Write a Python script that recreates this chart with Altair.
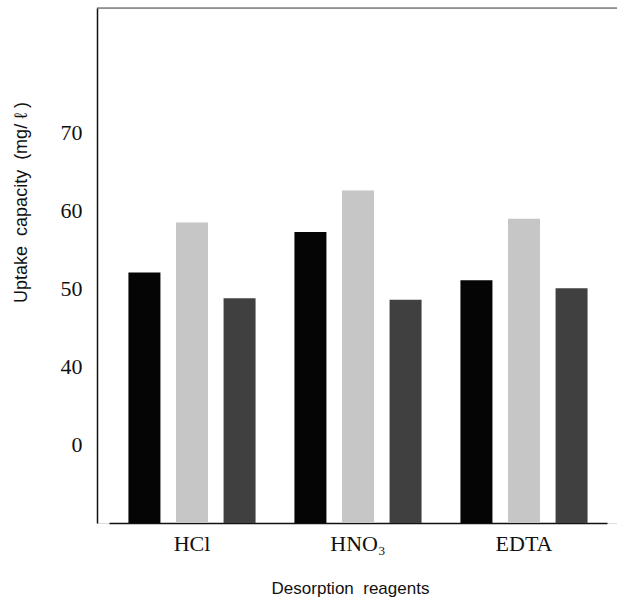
import altair as alt
import pandas as pd

reagents = ["HCl", "HNO₃", "EDTA"]
series = ["A", "B", "C"]
values_A = [52.1, 57.3, 51.1]
values_B = [58.5, 62.6, 59.0]
values_C = [48.8, 48.6, 50.1]
colors = ["#050505", "#c6c6c6", "#404040"]
y_ticks = [30, 40, 50, 60, 70]

rows = []
for i, r in enumerate(reagents):
    rows.append({"Reagent": r, "Series": "A", "Value": values_A[i]})
    rows.append({"Reagent": r, "Series": "B", "Value": values_B[i]})
    rows.append({"Reagent": r, "Series": "C", "Value": values_C[i]})
df = pd.DataFrame(rows)

W, H = 520, 515

bars = alt.Chart(df).mark_bar(size=32).encode(
    x=alt.X("Reagent:N", sort=reagents,
            scale=alt.Scale(range=[12, 510], paddingInner=0, paddingOuter=0),
            axis=alt.Axis(title="Desorption\u00a0 reagents", labelAngle=0,
                          labelFont="Liberation Serif", labelFontSize=22,
                          labelColor="#111", labelPadding=10, labelBaseline="top",
                          ticks=False, domainColor="#111", domainWidth=1.5,
                          titleFont="Liberation Sans", titleFontSize=17,
                          titleFontWeight="normal", titleColor="#111",
                          titleX=253, titleY=65, titleBaseline="middle",
                          titleAlign="center")),
    xOffset=alt.XOffset("Series:N", sort=series,
                        scale=alt.Scale(paddingInner=0.33, paddingOuter=0.41)),
    y=alt.Y("Value:Q", scale=alt.Scale(domain=[20, 86], zero=False, nice=False),
            axis=alt.Axis(values=y_ticks, grid=False, ticks=False,
                          labelExpr="datum.value == 30 ? '0' : datum.label",
                          labelFont="Liberation Serif", labelFontSize=22,
                          labelColor="#111", labelPadding=15,
                          domainColor="#111", domainWidth=1.5,
                          title="Uptake\u00a0 capacity\u00a0 (mg/ ℓ )",
                          titleFont="Liberation Sans", titleFontSize=18,
                          titleFontWeight="normal", titleColor="#111",
                          titleX=-76, titleY=194, titleAngle=-90,
                          titleAlign="center", titleBaseline="middle")),
    y2=alt.datum(20),
    color=alt.Color("Series:N", scale=alt.Scale(domain=series, range=colors),
                    legend=None),
)

top_line = alt.Chart(pd.DataFrame({"a": [0]})).mark_rule(
    color="#444", strokeWidth=1
).encode(x=alt.value(0), x2=alt.value(W), y=alt.value(0))

chart = alt.layer(bars, top_line).properties(
    width=W, height=H,
    autosize=alt.AutoSizeParams(type="none"),
    padding={"left": 97, "top": 8, "right": 0, "bottom": 87},
).configure_view(stroke=None).configure(background="white")

chart.save("out.html", embed_options={"renderer": "svg", "actions": False})
